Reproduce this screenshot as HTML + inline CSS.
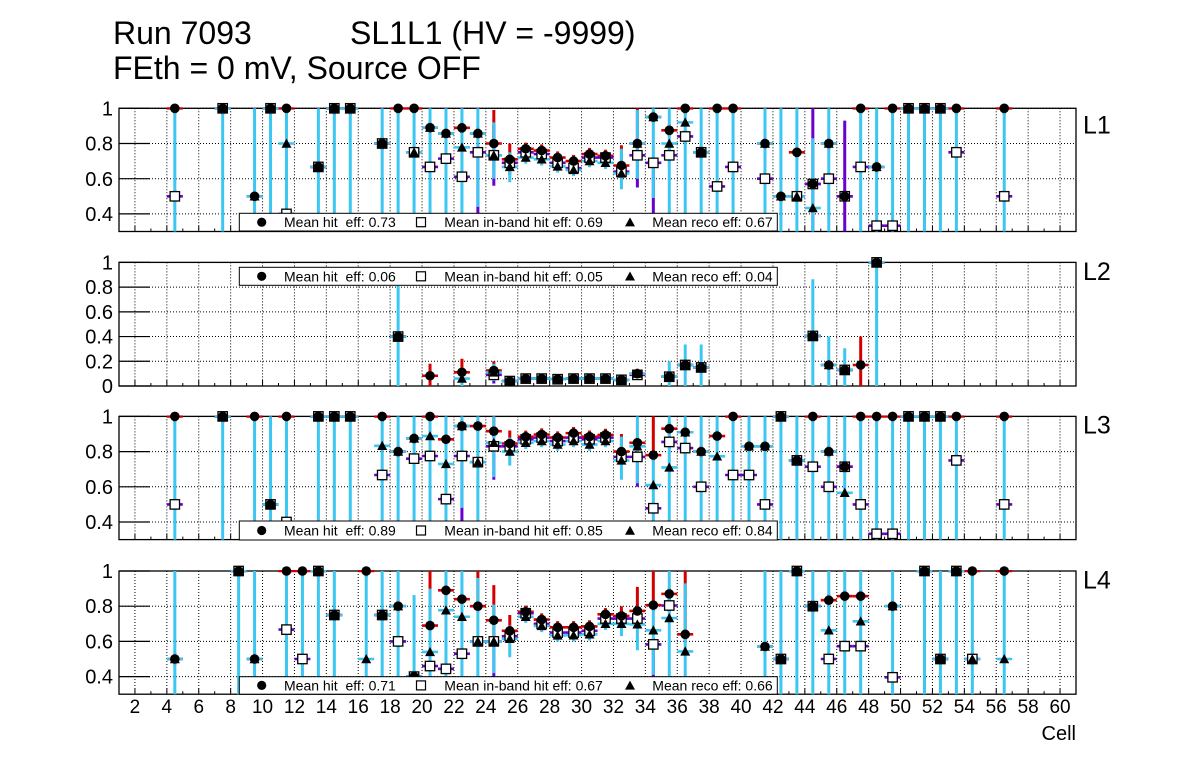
<!DOCTYPE html>
<html>
<head>
<meta charset="utf-8">
<style>
html,body{margin:0;padding:0;background:#fff;}
svg{display:block;}
text{font-family:"Liberation Sans",Arial,sans-serif;fill:#000;}
</style>
</head>
<body>
<svg id="svg" xmlns="http://www.w3.org/2000/svg" width="1196" height="772" viewBox="0 0 1196 772">
<rect x="0" y="0" width="1196" height="772" fill="#fff"/>
<g id="plot"></g>

<!-- Legends -->
<g font-size="14">
  <rect x="239.3" y="213.3" width="538" height="17.7" fill="#fff" stroke="#000" stroke-width="1"/>
  <circle cx="261.7" cy="222.2" r="4.6" fill="#000"/>
  <text x="284" y="227.2">Mean hit&#160; eff: 0.73</text>
  <rect x="416.5" y="217.7" width="9" height="9" fill="#fff" stroke="#000" stroke-width="1.2"/>
  <text x="444.3" y="227.2">Mean in-band hit eff: 0.69</text>
  <polygon points="625,226.4 635,226.4 630,217.4" fill="#000"/>
  <text x="652.3" y="227.2">Mean reco eff: 0.67</text>

  <rect x="239.3" y="267.3" width="538" height="18" fill="#fff" stroke="#000" stroke-width="1"/>
  <circle cx="261.7" cy="276.3" r="4.6" fill="#000"/>
  <text x="284" y="281.3">Mean hit&#160; eff: 0.06</text>
  <rect x="416.5" y="271.8" width="9" height="9" fill="#fff" stroke="#000" stroke-width="1.2"/>
  <text x="444.3" y="281.3">Mean in-band hit eff: 0.05</text>
  <polygon points="625,280.5 635,280.5 630,271.5" fill="#000"/>
  <text x="652.3" y="281.3">Mean reco eff: 0.04</text>

  <rect x="239.3" y="521" width="538" height="19" fill="#fff" stroke="#000" stroke-width="1"/>
  <circle cx="261.7" cy="530.5" r="4.6" fill="#000"/>
  <text x="284" y="535.5">Mean hit&#160; eff: 0.89</text>
  <rect x="416.5" y="526" width="9" height="9" fill="#fff" stroke="#000" stroke-width="1.2"/>
  <text x="444.3" y="535.5">Mean in-band hit eff: 0.85</text>
  <polygon points="625,534.7 635,534.7 630,525.7" fill="#000"/>
  <text x="652.3" y="535.5">Mean reco eff: 0.84</text>

  <rect x="239.3" y="676.7" width="538" height="17.5" fill="#fff" stroke="#000" stroke-width="1"/>
  <circle cx="261.7" cy="685.4" r="4.6" fill="#000"/>
  <text x="284" y="690.4">Mean hit&#160; eff: 0.71</text>
  <rect x="416.5" y="680.9" width="9" height="9" fill="#fff" stroke="#000" stroke-width="1.2"/>
  <text x="444.3" y="690.4">Mean in-band hit eff: 0.67</text>
  <polygon points="625,689.6 635,689.6 630,680.6" fill="#000"/>
  <text x="652.3" y="690.4">Mean reco eff: 0.66</text>
</g>

<!-- Titles -->
<g font-size="32">
  <text x="113" y="44">Run 7093</text>
  <text x="350" y="44">SL1L1 (HV = -9999)</text>
  <text x="113" y="79">FEth = 0 mV, Source OFF</text>
</g>

<!-- Panel labels -->
<g font-size="25">
  <text x="1083" y="133.3">L1</text>
  <text x="1083" y="280">L2</text>
  <text x="1083" y="433.3">L3</text>
  <text x="1083" y="588.3">L4</text>
</g>

<!-- Y labels -->
<g font-size="20" text-anchor="end">
  <text x="113" y="115.5">1</text>
  <text x="113" y="150.7">0.8</text>
  <text x="113" y="185.9">0.6</text>
  <text x="113" y="221.1">0.4</text>

  <text x="113" y="269.4">1</text>
  <text x="113" y="294.1">0.8</text>
  <text x="113" y="318.8">0.6</text>
  <text x="113" y="343.6">0.4</text>
  <text x="113" y="368.3">0.2</text>
  <text x="113" y="393">0</text>

  <text x="113" y="423.4">1</text>
  <text x="113" y="458.6">0.8</text>
  <text x="113" y="493.8">0.6</text>
  <text x="113" y="529">0.4</text>

  <text x="113" y="578">1</text>
  <text x="113" y="613.2">0.8</text>
  <text x="113" y="648.4">0.6</text>
  <text x="113" y="683.6">0.4</text>
</g>

<!-- X labels -->
<g font-size="19" text-anchor="middle">
  <text x="134.95" y="713">2</text>
  <text x="166.85" y="713">4</text>
  <text x="198.75" y="713">6</text>
  <text x="230.65" y="713">8</text>
  <text x="262.55" y="713">10</text>
  <text x="294.45" y="713">12</text>
  <text x="326.35" y="713">14</text>
  <text x="358.25" y="713">16</text>
  <text x="390.15" y="713">18</text>
  <text x="422.05" y="713">20</text>
  <text x="453.95" y="713">22</text>
  <text x="485.85" y="713">24</text>
  <text x="517.75" y="713">26</text>
  <text x="549.65" y="713">28</text>
  <text x="581.55" y="713">30</text>
  <text x="613.45" y="713">32</text>
  <text x="645.35" y="713">34</text>
  <text x="677.25" y="713">36</text>
  <text x="709.15" y="713">38</text>
  <text x="741.05" y="713">40</text>
  <text x="772.95" y="713">42</text>
  <text x="804.85" y="713">44</text>
  <text x="836.75" y="713">46</text>
  <text x="868.65" y="713">48</text>
  <text x="900.55" y="713">50</text>
  <text x="932.45" y="713">52</text>
  <text x="964.35" y="713">54</text>
  <text x="996.25" y="713">56</text>
  <text x="1028.15" y="713">58</text>
  <text x="1060.05" y="713">60</text>
</g>
<text x="1076" y="740" font-size="20" text-anchor="end">Cell</text>
</svg>

<script>
(function(){
const NS='http://www.w3.org/2000/svg';
const root=document.getElementById('plot');
const svg=document.getElementById('svg');
function el(tag,attrs,parent){const e=document.createElementNS(NS,tag);for(const k in attrs)e.setAttribute(k,attrs[k]);(parent||root).appendChild(e);return e;}
const X=c=>119+(c-1)*15.95;

const P1=[
[4.5,1,.5,null,{rl:0,rh:1}],
[7.5,1,1,1,{rl:0}],
[9.5,.5,null,.5,{rl:0,rh:1}],
[10.5,1,1,1,{rl:0}],
[11.5,1,.4,.8,{rl:0,rh:1}],
[13.5,.667,.667,.667,{rl:0,rh:1}],
[14.5,1,1,1,{rl:0}],
[15.5,1,1,1,{rl:0}],
[17.5,.8,.8,.8,{rl:0,rh:1}],
[18.5,1,null,null,{rl:0,rh:1}],
[19.5,1,.75,.75,{rl:0,rh:1}],
[20.5,.89,.667,.89,{rl:0,rh:1}],
[21.5,.857,.714,.857,{rl:0,rh:1}],
[22.5,.889,.611,.778,{rl:0,rh:1}],
[23.5,.857,.75,.857,{rl:.44,rh:1,bl:0}],
[24.5,.8,.733,.733,{hl:.7,hh:.99,rl:.6,rh:.92,bl:.56,bh:.9}],
[25.5,.71,.69,.667,{hl:.62,hh:.8,rl:.58,rh:.75}],
[26.5,.77,.75,.72],
[27.5,.76,.74,.71],
[28.5,.72,.69,.67],
[29.5,.70,.66,.65],
[30.5,.74,.72,.70],
[31.5,.73,.72,.69],
[32.5,.675,.64,.63,{hh:.79,rl:.54,rh:.77}],
[33.5,.8,.733,.8,{hh:1,rl:.6,rh:.99,bl:.55}],
[34.5,.95,.69,.95,{rl:.49,rh:1,bl:0}],
[35.5,.875,.733,.8,{rl:0,rh:1}],
[36.5,1,.84,.92,{rl:0,rh:1}],
[37.5,.75,.75,.75,{rl:0,rh:1}],
[38.5,1,.556,null,{rl:0,rh:1}],
[39.5,1,.667,null,{rl:0,rh:1}],
[41.5,.8,.6,.8,{rl:0,rh:1}],
[42.5,.5,null,.5,{rl:0,rh:1}],
[43.5,.75,.5,.5,{rl:0,rh:1}],
[44.5,.57,.57,.433,{bl:0,bh:1,rl:0,rh:.83}],
[45.5,.8,.6,.8,{rl:0,rh:1}],
[46.5,.5,.5,null,{bl:0,bh:.93}],
[47.5,1,.667,null,{rl:0,rh:1}],
[48.5,.667,.333,.667,{rl:0,rh:1}],
[49.5,1,.333,null,{rl:0,rh:1}],
[50.5,1,1,1,{rl:0}],
[51.5,1,1,1,{rl:0}],
[52.5,1,1,1,{rl:0}],
[53.5,1,.75,null,{rl:0,rh:1}],
[56.5,1,.5,null,{rl:0,rh:1}]
];
const P2=[
[18.5,.4,.4,.4,{rl:0,rh:.81}],
[20.5,.083,null,null,{hl:0,hh:.18}],
[22.5,.111,null,.06,{hl:.03,hh:.22,rl:0,rh:.15}],
[24.5,.125,.09,.11,{hl:.06,hh:.2,rl:.04,rh:.18,bl:.02,bh:.17}],
[25.5,.04,.04,.04],
[26.5,.06,.06,.06],
[27.5,.06,.06,.06],
[28.5,.055,.055,.055],
[29.5,.06,.06,.06],
[30.5,.06,.06,.06],
[31.5,.06,.06,.06],
[32.5,.05,.05,.05],
[33.5,.1,.09,.1,{hh:.14}],
[35.5,.075,.075,.075,{rl:0,rh:.2}],
[36.5,.17,.17,.17,{rl:0,rh:.336}],
[37.5,.15,.15,.15,{rl:0,rh:.336}],
[44.5,.405,.405,.405,{rl:0,rh:.864}],
[45.5,.17,null,.17,{rl:0,rh:.4}],
[46.5,.13,.13,.13,{rl:0,rh:.305}],
[47.5,.17,null,null,{hl:0,hh:.4}],
[48.5,1,1,1,{rl:0}]
];
const P3=[
[4.5,1,.5,null,{rl:0,rh:1}],
[7.5,1,1,1,{rl:0}],
[9.5,1,null,null,{rl:0,rh:1}],
[10.5,.5,.5,.5,{rl:0,rh:1}],
[11.5,1,.4,null,{rl:0,rh:1}],
[13.5,1,1,1,{rl:0}],
[14.5,1,1,1,{rl:0}],
[15.5,1,1,1,{rl:0}],
[17.5,1,.667,.833,{rl:0,rh:1}],
[18.5,.8,null,.8,{rl:0,rh:1}],
[19.5,.875,.76,.875,{rl:0,rh:1}],
[20.5,1,.775,.888,{rl:0,rh:1}],
[21.5,.87,.53,.73,{rl:0,rh:1}],
[22.5,.945,.775,.945,{rl:.48,rh:1,bl:0}],
[23.5,.945,.74,.74,{rl:0,rh:1}],
[24.5,.916,.83,.85,{hh:1,rl:.655,rh:1,bl:.64}],
[25.5,.846,.83,.8,{hl:.78,hh:.92,rl:.72,rh:.88}],
[26.5,.884,.87,.85],
[27.5,.897,.88,.86],
[28.5,.88,.86,.84],
[29.5,.905,.88,.86],
[30.5,.885,.87,.84],
[31.5,.895,.88,.86],
[32.5,.8,.77,.75,{hh:.9,rl:.64,rh:.885}],
[33.5,.85,.77,.83,{rl:.62,rh:1,bl:.6}],
[34.5,.78,.478,.61,{hh:1,rl:0,rh:.78}],
[35.5,.93,.855,.71,{rl:0,rh:1}],
[36.5,.91,.82,.91,{rl:0,rh:1}],
[37.5,.8,.6,.8,{rl:0,rh:1}],
[38.5,.888,null,.773,{rl:0,rh:1}],
[39.5,1,.667,null,{rl:0,rh:1}],
[40.5,.83,.667,.83,{rl:0,rh:1}],
[41.5,.83,.5,.83,{rl:0,rh:1}],
[42.5,1,1,1,{rl:0}],
[43.5,.75,.75,.75,{rl:0,rh:1}],
[44.5,1,.714,null,{rl:0,rh:1}],
[45.5,.8,.6,.8,{rl:0,rh:1}],
[46.5,.714,.714,.566,{rl:0,rh:1}],
[47.5,1,.5,null,{rl:0,rh:1}],
[48.5,1,.333,null,{rl:0,rh:1}],
[49.5,1,.333,null,{rl:0,rh:1}],
[50.5,1,1,1,{rl:0}],
[51.5,1,1,1,{rl:0}],
[52.5,1,1,1,{rl:0}],
[53.5,1,.75,null,{rl:0,rh:1}],
[56.5,1,.5,null,{rl:0,rh:1}]
];
const P4=[
[4.5,.5,null,.5,{rl:0,rh:1}],
[8.5,1,1,1,{rl:0}],
[9.5,.5,null,.5,{rl:0,rh:1}],
[11.5,1,.667,null,{rl:0,rh:1}],
[12.5,1,.5,null,{rl:0,rh:1}],
[13.5,1,1,1,{rl:0}],
[14.5,.75,.75,.75,{rl:0,rh:1}],
[16.5,1,null,.5,{rl:0,rh:1}],
[17.5,.75,.75,.75,{rl:0,rh:1}],
[18.5,.8,.6,.8,{rl:0,rh:1}],
[19.5,.4,.4,.4,{rl:0,rh:.863}],
[20.5,.69,.46,.54,{hh:1,rl:0,rh:.9}],
[21.5,.89,.444,.777,{rl:0,rh:1}],
[22.5,.84,.53,.74,{rl:0,rh:1}],
[23.5,.8,.6,.6,{hh:1,rl:0,rh:.96}],
[24.5,.72,.6,.6,{hl:.6,hh:.92,rl:.42,rh:.81,bl:0}],
[25.5,.66,.63,.615,{hl:.6,hh:.75,rl:.51,rh:.69}],
[26.5,.768,.76,.74],
[27.5,.724,.7,.688],
[28.5,.68,.65,.634],
[29.5,.68,.65,.635],
[30.5,.685,.66,.64],
[31.5,.754,.73,.70],
[32.5,.745,.73,.70,{hh:.8,rl:.63,rh:.77}],
[33.5,.773,.73,.697,{hh:.91,rl:.55,rh:.8}],
[34.5,.806,.583,.663,{hh:1,rl:.41,rh:.8,bl:0}],
[35.5,.87,.804,.733,{rl:0,rh:1}],
[36.5,.64,null,.543,{hh:1,rl:0,rh:.93}],
[41.5,.571,null,.571,{rl:0,rh:1}],
[42.5,.5,.5,.5,{rl:0,rh:1}],
[43.5,1,1,1,{rl:0}],
[44.5,.8,.8,.8,{rl:0,rh:1}],
[45.5,.834,.5,.663,{rl:0,rh:1}],
[46.5,.857,.573,null,{rl:0,rh:1}],
[47.5,.857,.573,.714,{rl:0,rh:1}],
[49.5,.8,.396,.8,{rl:0,rh:1}],
[51.5,1,1,1,{rl:0}],
[52.5,.5,.5,.5,{rl:0,rh:1}],
[53.5,1,1,1,{rl:0}],
[54.5,1,.5,.5,{rl:0,rh:1}],
[56.5,1,null,.5,{rl:0,rh:1}]
];

const panels=[
 {top:108.3,scale:176,ymin:0.3,ticks:[1,.8,.6,.4],d:P1},
 {top:262.4,scale:123.6,ymin:0,ticks:[1,.8,.6,.4,.2,0],d:P2},
 {top:416.4,scale:176,ymin:0.3,ticks:[1,.8,.6,.4],d:P3},
 {top:571,scale:176,ymin:0.3,ticks:[1,.8,.6,.4],d:P4}
];
const cols={h:'#d40000',b:'#6a00cc',r:'#3cc6f2'};
const defs=el('defs',{},svg);

panels.forEach((p,pi)=>{
  const Y=v=>p.top+(1-v)*p.scale;
  const bot=Y(p.ymin);
  const L=119,R=1076;
  const cp=el('clipPath',{id:'cp'+pi},defs);
  el('rect',{x:L,y:p.top-1,width:R-L,height:bot-p.top+1},cp);
  for(let c=2;c<=60;c+=2){
    el('line',{x1:X(c),x2:X(c),y1:p.top,y2:bot,stroke:'#000','stroke-width':1,'stroke-dasharray':'1,2'});
  }
  p.ticks.forEach(v=>{
    el('line',{x1:L,x2:R,y1:Y(v),y2:Y(v),stroke:'#000','stroke-width':1,'stroke-dasharray':'1,2'});
    el('line',{x1:L,x2:150,y1:Y(v),y2:Y(v),stroke:'#000','stroke-width':1.2});
  });
  for(let c=2;c<=60;c++){
    const len=(c%2===0)?6:3;
    el('line',{x1:X(c),x2:X(c),y1:bot,y2:bot-len,stroke:'#000','stroke-width':1});
  }
  el('rect',{x:L,y:p.top,width:R-L,height:bot-p.top,fill:'none',stroke:'#000','stroke-width':1.3});
  const cg=el('g',{'clip-path':'url(#cp'+pi+')'});
  [['h',1],['b',2],['r',3]].forEach(([k,idx])=>{
    p.d.forEach(pt=>{
      const c=pt[0],v=pt[idx],o=pt[4]||{};
      let lo=o[k+'l'],hi=o[k+'h'];
      if(v==null&&lo===undefined)return;
      if(lo===undefined)lo=v-0.035;
      if(hi===undefined)hi=Math.min(1,v+0.035);
      el('line',{x1:X(c),x2:X(c),y1:Y(hi),y2:Y(lo),stroke:cols[k],'stroke-width':3},cg);
      if(v!=null)el('line',{x1:X(c)-8,x2:X(c)+8,y1:Y(v),y2:Y(v),stroke:cols[k],'stroke-width':2.6},cg);
    });
  });
  const inR=v=>v!=null&&v>=p.ymin-0.005&&v<=1.0001;
  p.d.forEach(pt=>{const v=pt[2];if(!inR(v))return;
    el('rect',{x:X(pt[0])-4.7,y:Y(v)-4.7,width:9.4,height:9.4,fill:'#fff',stroke:'#000','stroke-width':1.3});});
  p.d.forEach(pt=>{const v=pt[1];if(!inR(v))return;
    el('circle',{cx:X(pt[0]),cy:Y(v),r:4.8,fill:'#000'});});
  p.d.forEach(pt=>{const v=pt[3];if(!inR(v))return;
    const x=X(pt[0]),y=Y(v);
    el('polygon',{points:(x-5)+','+(y+4.2)+' '+(x+5)+','+(y+4.2)+' '+x+','+(y-5),fill:'#000'});});
});
})();
</script>
</body>
</html>
